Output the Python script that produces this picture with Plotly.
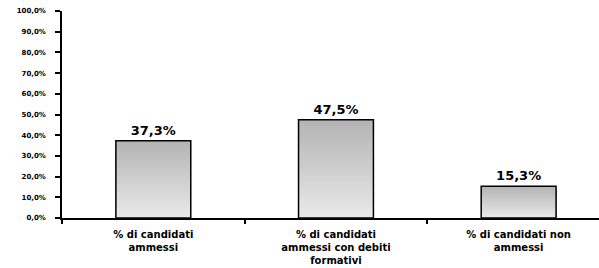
import plotly.graph_objects as go

categories = ["% di candidati<br>ammessi", "% di candidati<br>ammessi con debiti<br>formativi", "% di candidati non<br>ammessi"]
values = [37.3, 47.5, 15.3]
tick_vals = [0, 10, 20, 30, 40, 50, 60, 70, 80, 90, 100]
tick_text = [("%.1f" % t).replace(".", ",") + "%" for t in tick_vals]

top_rgb = (180, 180, 180)
bottom_rgb = (234, 234, 234)
N = 40
BAR_W = 0.41

fig = go.Figure()
for k in range(N):
    f = 1 - k / N
    c = tuple(int(round(bottom_rgb[i] + (top_rgb[i] - bottom_rgb[i]) * f)) for i in range(3))
    fig.add_trace(go.Bar(
        x=categories, y=[v * f for v in values], width=BAR_W,
        marker=dict(color="rgb(%d,%d,%d)" % c, line=dict(width=0)),
        hoverinfo="skip", showlegend=False,
    ))
# outline + labels
fig.add_trace(go.Bar(
    x=categories, y=values, width=BAR_W,
    marker=dict(color="rgba(0,0,0,0)", line=dict(color="black", width=1.5)),
    text=[("%.1f" % v).replace(".", ",") + "%" for v in values],
    textposition="outside", cliponaxis=False,
    textfont=dict(family="DejaVu Sans", size=13, color="black", weight="bold"),
    showlegend=False,
))

fig.update_layout(
    width=599, height=268,
    margin=dict(l=62, r=0, t=11, b=50, autoexpand=False),
    paper_bgcolor="white", plot_bgcolor="white",
    barmode="overlay", separators=",.",
    font=dict(family="DejaVu Sans", color="black"),
)
fig.update_xaxes(
    type="category", range=[-0.5, 2.44], automargin=False,
    showline=True, linecolor="black", linewidth=1.5,
    tickson="boundaries", ticks="outside", ticklen=4, tickcolor="black", tickwidth=1.5,
    ticklabelstandoff=6,
    tickfont=dict(family="DejaVu Sans", size=10, color="black", weight="bold"),
    showgrid=False,
)
fig.update_yaxes(
    range=[0, 100], tickvals=tick_vals, ticktext=tick_text, automargin=False,
    showline=True, linecolor="black", linewidth=1.5,
    ticks="outside", ticklen=5, tickcolor="black", tickwidth=1.5, ticklabelstandoff=8,
    tickfont=dict(family="DejaVu Sans", size=7, color="black", weight="bold"),
    showgrid=False, zeroline=False,
)

fig.write_html(
    "out.html",
    config={"displayModeBar": False},
    post_script="document.body.style.margin='0';document.body.style.overflow='hidden';",
)
